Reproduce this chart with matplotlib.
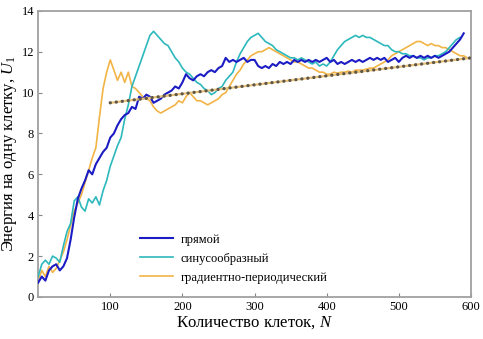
import numpy as np
import matplotlib
matplotlib.use("Agg")
import matplotlib.pyplot as plt

plt.rcParams["font.family"] = ["Liberation Serif", "DejaVu Serif"]
plt.rcParams["mathtext.fontset"] = "custom"
plt.rcParams["mathtext.rm"] = "Liberation Serif"
plt.rcParams["mathtext.it"] = "Liberation Serif:italic"

# sampled every 5 cells
n_direct = np.arange(0, 595, 5)
u_direct = [
    0.7, 1.0, 0.8, 1.3, 1.5, 1.6, 1.3, 1.5, 1.9, 2.8,
    3.9, 4.8, 5.3, 5.7, 6.2, 6.0, 6.5, 6.8, 7.1, 7.3,
    7.8, 8.0, 8.4, 8.7, 8.9, 9.0, 9.3, 9.2, 9.8, 9.7,
    9.9, 9.8, 9.5, 9.6, 9.7, 9.9, 10.0, 10.1, 10.3, 10.2,
    10.5, 10.9, 10.7, 10.6, 10.8, 10.9, 10.8, 11.0, 11.1, 11.0,
    11.2, 11.3, 11.7, 11.5, 11.6, 11.5, 11.6, 11.7, 11.5, 11.6,
    11.6, 11.3, 11.2, 11.3, 11.2, 11.4, 11.3, 11.5, 11.4, 11.5,
    11.4, 11.6, 11.5, 11.6, 11.5, 11.6, 11.5, 11.6, 11.5, 11.6,
    11.7, 11.5, 11.6, 11.4, 11.5, 11.4, 11.5, 11.6, 11.5, 11.6,
    11.5, 11.6, 11.7, 11.6, 11.7, 11.6, 11.7, 11.5, 11.6, 11.7,
    11.5, 11.7, 11.8, 11.7, 11.8, 11.7, 11.8, 11.7, 11.8, 11.7,
    11.8, 11.7, 11.8, 11.9, 12.0, 12.2, 12.4, 12.6, 12.9,
]

n_sine = np.arange(0, 590, 5)
u_sine = [
    1.0, 1.6, 1.8, 1.6, 2.0, 1.9, 1.7, 2.5, 3.2, 3.6,
    4.7, 4.9, 4.4, 4.2, 4.8, 4.6, 4.9, 4.5, 5.2, 5.7,
    6.4, 6.9, 7.4, 7.8, 8.7, 9.4, 10.3, 10.8, 11.3, 11.8,
    12.3, 12.8, 13.0, 12.8, 12.6, 12.4, 12.3, 12.0, 11.7, 11.5,
    11.2, 11.0, 10.9, 10.7, 10.5, 10.4, 10.2, 10.1, 9.9, 10.0,
    10.2, 10.3, 10.6, 10.8, 11.0, 11.5, 11.9, 12.2, 12.5, 12.7,
    12.8, 12.9, 12.7, 12.5, 12.4, 12.3, 12.1, 12.0, 11.9, 11.8,
    11.7, 11.7, 11.6, 11.7, 11.6, 11.5, 11.4, 11.5, 11.3, 11.4,
    11.3, 11.5, 11.8, 12.1, 12.3, 12.5, 12.6, 12.7, 12.8, 12.7,
    12.8, 12.7, 12.7, 12.6, 12.5, 12.4, 12.3, 12.3, 12.1, 12.0,
    12.0, 11.9, 11.9, 11.8, 11.8, 11.7, 11.7, 11.6, 11.7, 11.7,
    11.8, 11.8, 11.9, 12.0, 12.2, 12.4, 12.6, 12.7,
]

n_grad = np.arange(0, 605, 5)
u_grad = [
    0.8, 1.3, 1.0, 1.5, 1.2, 1.4, 1.8, 2.2, 2.8, 3.5,
    4.2, 4.6, 5.0, 5.6, 6.2, 6.8, 7.3, 8.8, 10.2, 11.0,
    11.6, 11.1, 10.6, 11.0, 10.5, 11.0, 10.3, 10.2, 10.0, 9.8,
    9.7, 9.6, 9.3, 9.1, 9.0, 9.1, 9.2, 9.3, 9.4, 9.6,
    9.5, 9.8, 10.0, 9.8, 9.6, 9.6, 9.5, 9.4, 9.5, 9.6,
    9.7, 9.9, 10.0, 10.3, 10.6, 10.9, 11.1, 11.4, 11.6, 11.8,
    11.9, 12.0, 12.0, 12.1, 12.2, 12.1, 12.0, 11.9, 11.8, 11.7,
    11.6, 11.5, 11.5, 11.4, 11.3, 11.2, 11.2, 11.1, 11.0, 11.0,
    10.9, 10.9, 11.0, 10.95, 11.0, 11.0, 11.05, 11.0, 11.1, 11.1,
    11.1, 11.15, 11.2, 11.2, 11.3, 11.4, 11.5, 11.6, 11.8, 11.9,
    12.0, 12.1, 12.2, 12.3, 12.4, 12.5, 12.5, 12.4, 12.3, 12.4,
    12.3, 12.3, 12.2, 12.2, 12.1, 12.0, 11.9, 11.8, 11.8, 11.7,
    11.7,
]

trend_n = [100, 600]
trend_u = [9.5, 11.7]

labels = ["прямой", "синусообразный", "градиентно-периодический"]
colors = ["#1c1cc4", "#2cb8bc", "#f2b445"]

fig = plt.figure(figsize=(4.83, 3.39), dpi=100)
ax = fig.add_axes([0.079, 0.124, 0.896, 0.844])

ax.plot(n_direct, u_direct, color=colors[0], lw=1.5, label=labels[0], zorder=4)
ax.plot(n_sine, u_sine, color=colors[1], lw=1.2, label=labels[1], zorder=3)
ax.plot(n_grad, u_grad, color=colors[2], lw=1.2, label=labels[2], zorder=2)

# fitted trend: light tan line with grey dots on top
ax.plot(trend_n, trend_u, color="#e6c27a", lw=1.6, zorder=5)
ax.plot(trend_n, trend_u, color="#605646", lw=2.4,
        linestyle=(0, (0.01, 1.8)), dash_capstyle="round", zorder=6)

ax.set_xlim(0, 600)
ax.set_ylim(0, 14)
ax.set_xticks([100, 200, 300, 400, 500, 600])
ax.set_yticks(range(0, 15, 2))
ax.tick_params(direction="in", length=3, width=0.8, color="#888888",
               labelsize=9, pad=3)
for s in ax.spines.values():
    s.set_color("#a0a0a0")
    s.set_linewidth(1.3)

ax.set_xlabel("Количество клеток, $\\it{N}$", fontsize=12, labelpad=1)
ax.set_ylabel("Энергия на одну клетку, $\\it{U}_1$", fontsize=12, labelpad=2)

ax.legend(loc="upper left", bbox_to_anchor=(0.21, 0.26), frameon=False,
          fontsize=9, handlelength=2.6, labelspacing=0.55, handletextpad=0.6)

fig.savefig("out.png", dpi=100)
